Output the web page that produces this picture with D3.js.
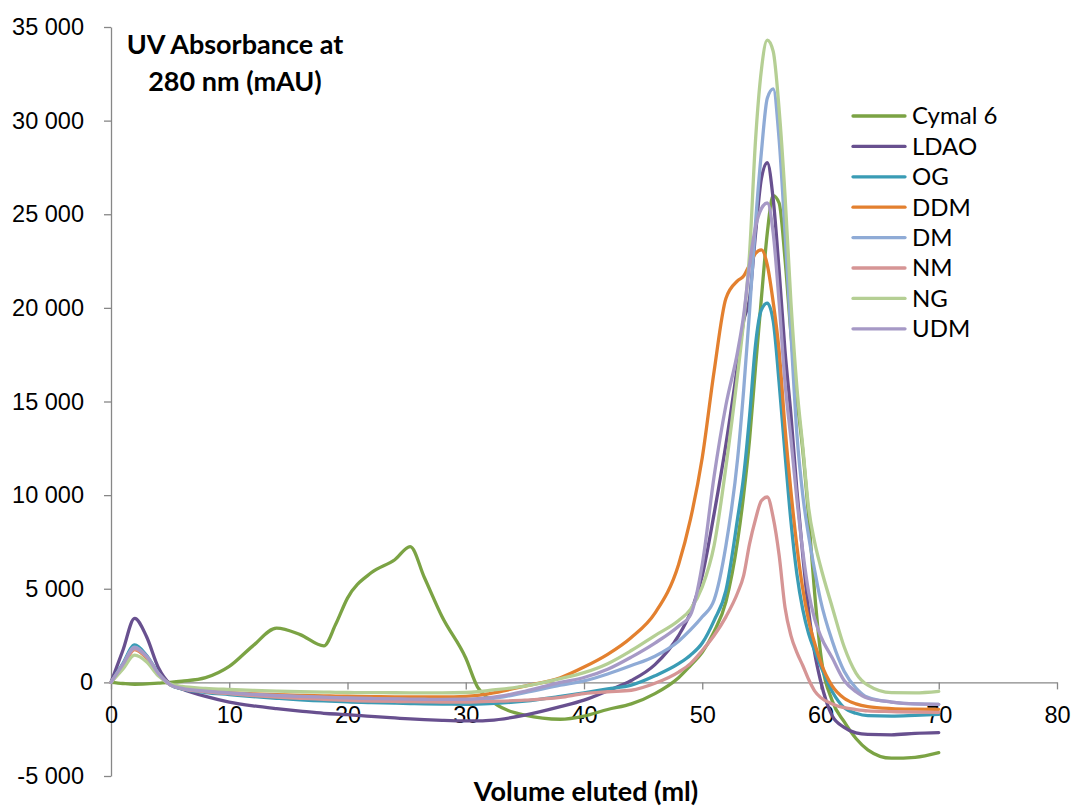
<!DOCTYPE html>
<html>
<head>
<meta charset="utf-8">
<script src="https://cdn.jsdelivr.net/npm/d3@7"></script>
<style>
  html, body { margin: 0; padding: 0; background: #fff; }
  svg { display: block; font-family: Lato, "Open Sans", sans-serif; }
</style>
</head>
<body>
<svg id="chart" width="1077" height="809"></svg>
<script>
// Elution volume (ml) shared by every trace
const volume = [0,1,2,3,4,5,6,8,10,12,14,16,18,19,20,22,24,25.3,26.5,28,30,31,32,35,38,40,42,44,46,48,49,50,51,52,53,53.5,54,54.5,55,55.5,56,56.5,57,57.5,58,58.5,59,59.5,60,61,62,63,64,66,68,70];

// UV absorbance at 280 nm (mAU), one trace per detergent
const cymal6 = [0,-60,-100,-80,-40,0,60,250,850,1950,2900,2550,1950,3100,4500,5850,6550,7250,5600,3500,1300,-250,-900,-1750,-1970,-1800,-1450,-1150,-600,250,900,1600,2700,4300,7600,10000,12960,16800,20500,24000,26000,25600,22600,18600,15200,12400,8800,4800,1600,-1000,-2100,-3000,-3600,-4050,-4000,-3750];
const ldao   = [0,1700,3420,2450,800,-80,-350,-750,-1050,-1250,-1400,-1530,-1650,-1690,-1720,-1820,-1900,-1950,-1990,-2030,-2060,-2060,-2030,-1750,-1300,-950,-450,100,950,2500,3730,5700,9000,12700,17000,19300,20500,23900,26900,27750,25800,22000,17700,14300,10300,6800,3800,1600,100,-1800,-2400,-2700,-2780,-2800,-2720,-2680];
const og     = [0,1000,2000,1450,500,-130,-350,-540,-650,-760,-850,-930,-990,-1010,-1040,-1080,-1110,-1130,-1150,-1160,-1170,-1160,-1140,-1000,-750,-560,-350,-150,350,1000,1450,2100,3300,4900,8800,11000,14200,18000,19900,20250,19300,16000,12200,8600,5800,3900,2600,1700,900,-500,-1350,-1650,-1780,-1800,-1760,-1710];
const ddm    = [0,850,1750,1300,450,-120,-300,-450,-550,-610,-650,-690,-720,-730,-740,-760,-770,-775,-780,-780,-750,-700,-600,-200,250,820,1500,2400,3700,6300,8700,12000,16600,20500,21450,21700,22300,22900,23100,22300,20300,17700,13600,10200,7300,5000,3300,2100,1100,-200,-850,-1150,-1300,-1400,-1430,-1440];
const dm     = [0,950,1880,1400,480,-120,-320,-480,-580,-660,-720,-770,-820,-840,-860,-890,-910,-920,-930,-940,-940,-920,-880,-550,-150,80,450,900,1400,2200,2800,3500,4400,7300,12000,15600,19800,24500,28300,31200,31700,29000,24000,18600,13300,10000,7800,6000,4400,2200,600,-300,-800,-1050,-1150,-1170];
const nm     = [0,900,1780,1350,450,-120,-330,-500,-600,-700,-780,-850,-910,-930,-960,-1000,-1020,-1030,-1040,-1050,-1050,-1040,-1020,-950,-800,-600,-500,-420,-50,550,1000,1700,2500,3500,4800,5700,7400,8700,9700,9900,8800,6800,4000,2500,1600,900,150,-450,-800,-1150,-1350,-1450,-1520,-1560,-1590,-1600];
const ng     = [0,700,1450,1100,350,-80,-220,-320,-380,-430,-470,-500,-520,-530,-540,-550,-555,-560,-560,-560,-540,-500,-430,-200,200,520,1000,1700,2500,3300,3900,5100,7300,11500,16500,19300,22900,28900,32700,34300,33700,30600,26000,20300,15800,12600,9300,7500,6200,4000,1900,500,-150,-550,-560,-480];
const udm    = [0,950,1850,1400,480,-120,-320,-470,-560,-640,-700,-750,-790,-810,-830,-860,-880,-890,-900,-910,-900,-870,-820,-480,0,260,700,1350,2100,3000,3600,6300,11000,14800,17700,19600,22300,24300,25300,25600,24000,20300,16000,13000,9800,7000,4800,3400,2500,1300,100,-500,-850,-1050,-1150,-1170];

const seriesNames  = ["Cymal 6", "LDAO", "OG", "DDM", "DM", "NM", "NG", "UDM"];
const seriesValues = [cymal6, ldao, og, ddm, dm, nm, ng, udm];
const seriesColors = ["#7ba344", "#68508f", "#3a9cb5", "#e3802f", "#8fabd6", "#d69595", "#b5cf94", "#a699c6"];

// Axis ticks and titles
const xTicks = [0, 10, 20, 30, 40, 50, 60, 70, 80];
const yTicks = [-5000, 0, 5000, 10000, 15000, 20000, 25000, 30000, 35000];
const yTitleLines = ["UV Absorbance at", "280 nm (mAU)"];
const xTitle = "Volume eluted (ml)";

const svg = d3.select("#chart");
const axisGrey = "#878787";

const x = d3.scaleLinear().domain([0, 80]).range([111, 1057]);
const y = d3.scaleLinear().domain([-5000, 35000]).range([776, 27]);

// Numbers grouped with a space: 35 000
const fmt = d3.formatLocale({ decimal: ",", thousands: " ", grouping: [3], currency: ["", ""], minus: "-" }).format(",d");

// Y axis on the left edge
const yAxis = svg.append("g")
  .attr("transform", `translate(${x(0)},0)`)
  .call(d3.axisLeft(y).tickValues(yTicks).tickFormat(fmt).tickSize(7).tickSizeOuter(0).tickPadding(11));
yAxis.selectAll("path, line").attr("stroke", axisGrey).attr("stroke-width", 1.3);
yAxis.selectAll("text")
  .attr("fill", "#000")
  .style("font-size", "23.5px")
  .attr("dx", d => Math.abs(d) >= 1000 ? -9 : 0);

// X axis through zero
const xAxis = svg.append("g")
  .attr("transform", `translate(0,${y(0)})`)
  .call(d3.axisBottom(x).tickValues(xTicks).tickSize(7).tickSizeOuter(0).tickPadding(17));
xAxis.selectAll("path, line").attr("stroke", axisGrey).attr("stroke-width", 1.3);
xAxis.selectAll("text").attr("fill", "#000").style("font-size", "23.5px");

// Traces
const line = d3.line()
  .x((d, i) => x(volume[i]))
  .y(d => y(d))
  .curve(d3.curveMonotoneX);

svg.append("g")
  .selectAll("path")
  .data(seriesValues)
  .join("path")
  .attr("d", d => line(d))
  .attr("fill", "none")
  .attr("stroke", (d, i) => seriesColors[i])
  .attr("stroke-width", 3.3)
  .attr("stroke-linejoin", "round")
  .attr("stroke-linecap", "round");

// Y title
svg.append("text")
  .attr("x", 235)
  .attr("y", 54)
  .attr("text-anchor", "middle")
  .style("font-size", "27px")
  .style("font-weight", "bold")
  .selectAll("tspan")
  .data(yTitleLines)
  .join("tspan")
  .attr("x", 235)
  .attr("dy", (d, i) => i === 0 ? 0 : 37)
  .text(d => d);

// X title
svg.append("text")
  .attr("x", 586)
  .attr("y", 801)
  .attr("text-anchor", "middle")
  .style("font-size", "27px")
  .style("font-weight", "bold")
  .text(xTitle);

// Legend
const legend = svg.append("g").attr("transform", "translate(853,116)");
const rows = legend.selectAll("g")
  .data(seriesNames)
  .join("g")
  .attr("transform", (d, i) => `translate(0,${i * 30.4})`);
rows.append("line")
  .attr("x1", 0).attr("x2", 52)
  .attr("stroke", (d, i) => seriesColors[i])
  .attr("stroke-width", 3.3)
  .attr("stroke-linecap", "round");
rows.append("text")
  .attr("x", 59)
  .attr("dy", "0.35em")
  .style("font-size", "24px")
  .text(d => d);
</script>
</body>
</html>
